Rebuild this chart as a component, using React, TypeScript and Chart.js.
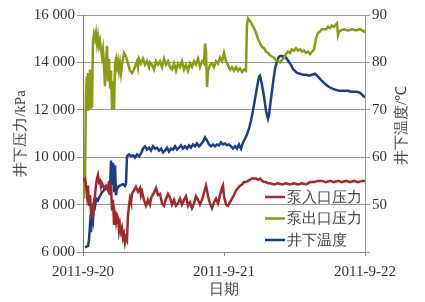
import React, { useEffect, useRef } from 'react';
import { Chart, registerables } from 'chart.js';

Chart.register(...registerables);

// ---- data ----
const dateLabels = ['2011-9-20', '2011-9-21', '2011-9-22'];
const seriesNames = ['泵入口压力', '泵出口压力', '井下温度'];
const seriesColors = ['#a3282c', '#8c9b16', '#1f3c86'];
const xTitle = '日期';
const leftTitle = '井下压力/kPa';
const rightTitle = '井下温度/℃';

// hours since 2011-9-20 00:00
const inletHours = [0, 0.34, 0.51, 0.68, 0.85, 1.02, 1.19, 1.36, 1.53, 1.7, 1.87, 2.04, 2.21, 2.38, 2.55, 2.72, 2.89, 3.06, 3.23, 3.57, 3.91, 4.26, 4.43, 4.6, 4.77, 4.94, 5.11, 5.28, 5.45, 5.62, 5.79, 5.96, 6.13, 6.3, 6.47, 6.64, 6.81, 6.98, 7.15, 7.32, 7.49, 7.66, 7.83, 8.0, 8.17, 8.34, 8.68, 9.02, 9.36, 9.7, 9.87, 10.04, 10.38, 10.72, 10.89, 11.06, 11.4, 11.57, 11.74, 12.09, 12.43, 12.77, 13.11, 13.45, 13.79, 14.13, 14.47, 14.81, 15.15, 15.49, 15.83, 16.17, 16.51, 16.85, 17.19, 17.53, 17.87, 18.21, 18.55, 18.89, 19.23, 19.57, 19.91, 20.26, 20.6, 20.94, 21.11, 21.28, 21.62, 21.96, 22.3, 22.64, 22.98, 23.32, 23.66, 23.83, 24.0, 24.34, 24.68, 25.02, 25.36, 25.7, 26.04, 26.38, 26.72, 27.06, 27.4, 27.74, 28.08, 28.42, 28.76, 29.1, 29.45, 29.79, 30.13, 30.47, 30.81, 31.15, 31.49, 31.83, 32.51, 33.19, 33.87, 34.55, 35.23, 35.91, 36.6, 37.28, 37.96, 38.64, 39.32, 40.0, 40.68, 41.36, 42.04, 42.72, 43.4, 44.08, 44.77, 45.45, 46.13, 46.81, 47.49, 48.0];
const inletKPa = [9000, 9100, 8800, 8400, 8800, 7950, 8400, 7700, 7850, 7450, 7950, 8400, 8800, 9100, 9250, 8950, 9000, 8750, 8900, 8700, 8800, 8600, 9000, 8400, 8800, 7750, 8200, 7150, 7550, 7250, 7550, 7450, 6900, 7150, 6850, 7000, 6600, 6750, 6400, 6600, 6500, 7550, 7950, 8250, 8100, 8450, 8600, 8750, 8550, 8700, 8400, 8550, 8200, 7950, 8050, 8200, 8000, 8250, 8350, 8500, 8700, 8400, 8450, 8050, 7950, 8250, 8450, 8300, 8000, 8200, 7950, 8050, 8250, 8000, 8200, 8350, 7950, 8100, 7850, 8050, 8350, 8200, 8000, 8200, 8500, 8800, 8600, 8350, 8050, 7850, 8100, 8250, 8050, 8400, 8700, 8800, 8350, 8000, 7950, 8100, 8250, 8400, 8600, 8700, 8800, 8850, 8950, 8950, 9000, 9050, 9100, 9100, 9100, 9050, 9100, 9000, 8950, 8950, 8900, 8900, 8850, 8900, 8850, 8900, 8850, 8900, 8850, 8900, 8850, 8950, 8950, 9000, 9000, 8950, 9000, 8950, 9000, 8950, 9000, 8950, 9000, 8950, 9000, 9000];

const outletHours = [0, 0.17, 0.34, 0.51, 0.68, 0.77, 0.85, 1.02, 1.19, 1.28, 1.36, 1.53, 1.7, 1.87, 2.04, 2.21, 2.38, 2.55, 2.72, 2.89, 3.06, 3.23, 3.4, 3.57, 3.74, 3.91, 4.09, 4.26, 4.43, 4.6, 4.77, 4.94, 5.11, 5.28, 5.45, 5.62, 5.79, 5.96, 6.13, 6.3, 6.47, 6.64, 6.98, 7.32, 7.66, 8.0, 8.34, 8.68, 9.02, 9.19, 9.36, 9.53, 9.87, 10.21, 10.55, 10.89, 11.23, 11.4, 11.74, 12.09, 12.43, 12.77, 13.11, 13.45, 13.79, 14.13, 14.47, 14.81, 15.15, 15.49, 15.83, 16.17, 16.51, 16.85, 17.19, 17.53, 17.87, 18.21, 18.55, 18.89, 19.23, 19.57, 19.91, 20.26, 20.6, 20.77, 20.94, 21.11, 21.28, 21.62, 21.96, 22.3, 22.64, 22.98, 23.32, 23.66, 24.0, 24.34, 24.68, 25.02, 25.36, 25.7, 26.04, 26.38, 26.72, 27.06, 27.4, 27.74, 27.91, 28.08, 28.42, 28.76, 29.1, 29.45, 29.79, 30.13, 30.47, 30.81, 31.15, 31.49, 31.83, 32.17, 32.51, 32.85, 33.19, 33.53, 33.87, 34.21, 34.55, 34.89, 35.23, 35.57, 35.91, 36.25, 36.6, 36.94, 37.28, 37.62, 37.96, 38.3, 38.64, 38.98, 39.32, 39.66, 40.0, 40.34, 40.68, 41.02, 41.36, 41.7, 42.04, 42.38, 42.72, 43.06, 43.23, 43.4, 43.57, 43.91, 44.42, 45.11, 45.79, 46.47, 47.15, 47.83, 48.0];
const outletKPa = [8300, 9000, 8900, 12800, 13400, 12000, 13550, 12000, 13700, 12100, 13650, 12100, 14900, 15200, 15000, 15250, 14800, 15100, 14700, 14900, 14550, 14250, 14550, 13950, 13000, 14050, 14700, 13200, 14150, 12900, 13650, 12000, 13200, 12000, 13950, 14150, 13800, 14050, 13650, 13950, 13550, 13900, 14400, 14250, 13950, 13650, 13550, 13700, 13950, 14050, 13800, 14150, 13950, 14150, 13900, 14050, 13800, 14000, 13900, 13700, 14050, 13900, 14050, 13800, 14150, 13900, 14050, 13800, 13700, 13950, 13650, 13950, 13800, 14050, 13700, 13900, 13650, 13950, 13800, 14050, 13900, 14150, 13800, 14050, 13950, 14800, 14500, 12950, 13650, 13900, 13950, 13800, 14050, 13950, 14200, 14050, 14400, 14050, 13900, 13700, 13800, 13650, 13800, 13650, 13750, 13600, 13700, 13650, 15550, 15850, 15750, 15600, 15450, 15250, 15000, 14800, 14650, 14600, 14450, 14400, 14300, 14250, 14200, 14100, 14050, 14000, 14100, 14200, 14350, 14450, 14400, 14550, 14500, 14600, 14500, 14550, 14450, 14500, 14400, 14450, 14350, 14450, 14550, 15000, 15250, 15300, 15400, 15400, 15400, 15500, 15450, 15550, 15500, 15600, 15650, 15150, 15300, 15350, 15400, 15350, 15400, 15350, 15400, 15300, 15350];

const tempHours = [0.34, 0.85, 1.02, 1.19, 1.36, 1.53, 1.7, 1.87, 2.04, 2.21, 2.55, 2.89, 3.23, 3.57, 3.91, 4.26, 4.6, 4.77, 4.94, 5.11, 5.28, 5.45, 5.62, 5.79, 6.13, 6.47, 6.81, 7.15, 7.32, 7.49, 7.83, 8.17, 8.51, 8.85, 9.19, 9.53, 9.87, 10.21, 10.55, 10.89, 11.23, 11.57, 11.91, 12.26, 12.6, 12.94, 13.28, 13.62, 13.96, 14.3, 14.64, 14.98, 15.32, 15.66, 16.0, 16.34, 16.68, 17.02, 17.36, 17.7, 18.04, 18.38, 18.72, 19.06, 19.4, 19.74, 20.08, 20.43, 20.77, 21.11, 21.45, 21.79, 22.13, 22.47, 22.81, 23.15, 23.49, 23.83, 24.17, 24.51, 24.85, 25.19, 25.53, 25.87, 26.21, 26.55, 26.89, 27.23, 27.57, 27.91, 28.25, 28.59, 28.93, 29.28, 29.62, 29.96, 30.13, 30.47, 30.81, 31.15, 31.49, 31.66, 32.0, 32.34, 32.68, 33.02, 33.36, 33.7, 34.04, 34.38, 34.72, 35.06, 35.4, 35.74, 36.08, 36.42, 36.94, 37.45, 37.96, 38.47, 38.98, 39.49, 40.0, 40.51, 41.02, 41.53, 42.04, 42.55, 43.06, 43.57, 44.08, 44.6, 45.11, 45.62, 46.13, 46.64, 47.15, 47.49, 48.0];
const tempC = [41.0, 41.3, 42.5, 45.7, 44.2, 47.8, 46.7, 50.3, 49.7, 51.3, 50.9, 51.8, 52.6, 53.0, 53.4, 53.9, 53.4, 59.3, 54.1, 58.8, 52.6, 58.3, 52.0, 53.4, 53.9, 54.1, 54.3, 53.9, 54.5, 60.2, 60.6, 60.2, 60.4, 59.9, 60.6, 60.2, 60.8, 61.8, 62.3, 61.6, 62.0, 61.4, 62.3, 61.8, 62.0, 61.4, 61.8, 61.0, 61.4, 62.0, 61.2, 61.8, 61.6, 62.3, 61.6, 62.0, 62.5, 61.8, 62.3, 61.8, 62.5, 62.0, 62.7, 62.3, 62.9, 62.3, 62.7, 63.3, 64.2, 63.5, 62.7, 62.3, 62.7, 62.3, 62.7, 62.5, 63.1, 62.7, 62.9, 62.5, 62.7, 62.3, 61.8, 62.3, 61.8, 62.7, 61.8, 63.1, 63.9, 64.8, 66.0, 67.7, 69.8, 72.3, 74.7, 77.0, 77.2, 75.3, 72.8, 69.8, 68.1, 68.9, 72.3, 75.7, 78.6, 80.3, 81.2, 81.4, 81.2, 81.4, 80.7, 80.1, 79.5, 78.6, 78.2, 77.8, 77.6, 77.4, 77.4, 77.2, 77.4, 77.6, 77.0, 76.3, 75.7, 75.1, 74.7, 74.4, 74.2, 74.0, 74.0, 74.0, 74.0, 73.8, 73.8, 73.8, 73.6, 73.2, 72.6];

const pressureMin = 6000;
const pressureMax = 16000;
const pressureStep = 2000;
const tempMin = 40;
const tempMax = 90;
const tempStep = 10;

const serifFont = "'Liberation Serif', 'Times New Roman', serif";

function toPoints(xs: number[], ys: number[]) {
  return xs.map((x, i) => ({ x, y: ys[i] }));
}

function fmtThousands(v: number) {
  const s = String(Math.round(v));
  return s.length > 3 ? s.slice(0, s.length - 3) + ' ' + s.slice(s.length - 3) : s;
}

const overlayPlugin = {
  id: 'overlay',
  afterDraw(chart: any) {
    const { ctx, chartArea } = chart;
    // right-axis title, reading bottom to top
    ctx.save();
    ctx.fillStyle = '#444';
    ctx.font = `15px ${serifFont}`;
    ctx.textAlign = 'center';
    ctx.textBaseline = 'middle';
    ctx.translate(chart.width - 23, (chartArea.top + chartArea.bottom) / 2 - 8);
    ctx.rotate(-Math.PI / 2);
    ctx.fillText(rightTitle, 0, 0);
    ctx.restore();

    // legend inside the plot area, bottom-right
    ctx.save();
    ctx.font = `15px ${serifFont}`;
    ctx.textBaseline = 'middle';
    ctx.textAlign = 'left';
    const rowYs = [chartArea.bottom - 55, chartArea.bottom - 33.5, chartArea.bottom - 12];
    chart.data.datasets.forEach((ds: any, i: number) => {
      const y = rowYs[i];
      ctx.strokeStyle = ds.borderColor;
      ctx.lineWidth = 2.5;
      ctx.beginPath();
      ctx.moveTo(chartArea.right - 100, y);
      ctx.lineTo(chartArea.right - 80, y);
      ctx.stroke();
      ctx.fillStyle = '#444';
      ctx.fillText(ds.label, chartArea.right - 78, y + 1);
    });
    ctx.restore();
  },
};

export default function App() {
  const canvasRef = useRef<HTMLCanvasElement | null>(null);

  useEffect(() => {
    if (!canvasRef.current) return;
    const chart = new Chart(canvasRef.current, {
      type: 'line',
      data: {
        datasets: [
          { label: seriesNames[0], data: toPoints(inletHours, inletKPa), borderColor: seriesColors[0], yAxisID: 'y' },
          { label: seriesNames[1], data: toPoints(outletHours, outletKPa), borderColor: seriesColors[1], yAxisID: 'y' },
          { label: seriesNames[2], data: toPoints(tempHours, tempC), borderColor: seriesColors[2], yAxisID: 'y1' },
        ].map((d) => ({ ...d, borderWidth: 2.5, pointRadius: 0, tension: 0, fill: false })),
      },
      options: {
        animation: false,
        responsive: true,
        maintainAspectRatio: false,
        layout: { padding: { top: 15, left: 0, right: 0, bottom: 0 } },
        plugins: { legend: { display: false }, tooltip: { enabled: false } },
        scales: {
          x: {
            type: 'linear',
            min: 0,
            max: 48,
            ticks: {
              stepSize: 24,
              autoSkip: false,
              maxRotation: 0,
              padding: 7,
              color: '#333',
              font: { family: serifFont, size: 15 },
              callback: (v: any) => dateLabels[Math.round(Number(v) / 24)] ?? '',
            },
            grid: { display: true, drawOnChartArea: false, drawTicks: true, tickLength: 4, color: '#888' },
            border: { display: true, color: '#888' },
            title: { display: true, text: xTitle, color: '#444', font: { family: serifFont, size: 15 }, padding: { top: 0, bottom: 3 } },
            afterFit: (s: any) => { s.height = 50; },
          },
          y: {
            position: 'left',
            min: pressureMin,
            max: pressureMax,
            ticks: {
              stepSize: pressureStep,
              padding: 2,
              color: '#333',
              font: { family: serifFont, size: 15 },
              callback: (v: any) => fmtThousands(Number(v)),
            },
            grid: { color: '#999', lineWidth: 1, tickLength: 6, drawTicks: true },
            border: { display: true, color: '#777' },
            title: { display: true, text: leftTitle, color: '#444', font: { family: serifFont, size: 15 }, padding: { top: 12, bottom: 0 } },
            afterFit: (s: any) => { s.width = 83; },
          },
          y1: {
            position: 'right',
            min: tempMin,
            max: tempMax,
            ticks: {
              stepSize: tempStep,
              padding: 2,
              color: '#333',
              font: { family: serifFont, size: 15 },
              callback: (v: any) => (Number(v) === tempMin ? '' : String(v)),
            },
            grid: { drawOnChartArea: false, drawTicks: true, tickLength: 5, color: '#999' },
            border: { display: true, color: '#999' },
            title: { display: false },
            afterFit: (s: any) => { s.width = 60; },
          },
        },
      } as any,
      plugins: [overlayPlugin],
    });
    return () => chart.destroy();
  }, []);

  return (
    <div style={{ position: 'absolute', left: 0, top: 0, width: 425, height: 302, background: '#fff' }}>
      <canvas ref={canvasRef} />
    </div>
  );
}
